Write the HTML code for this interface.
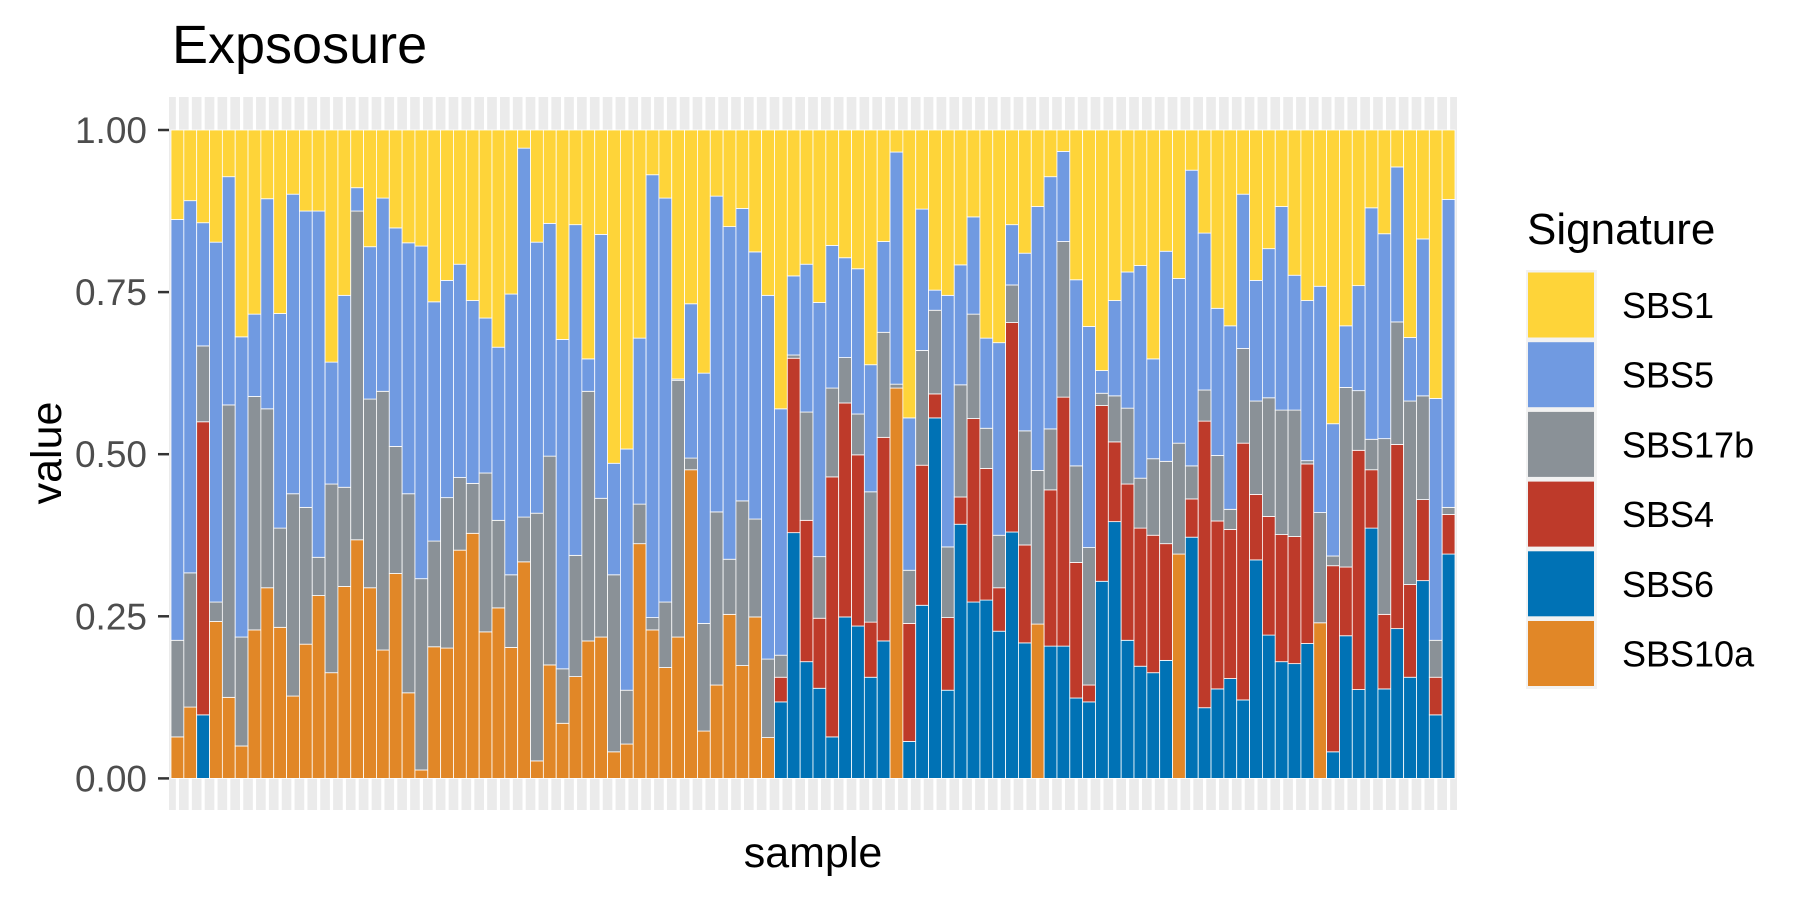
<!DOCTYPE html>
<html><head><meta charset="utf-8"><style>
html,body{margin:0;padding:0;background:#fff;}
svg{display:block;font-family:"Liberation Sans",Arial,sans-serif;}
</style></head><body>
<svg id="chart" width="1800" height="900" viewBox="0 0 1800 900" xmlns="http://www.w3.org/2000/svg">
<rect x="0" y="0" width="1800" height="900" fill="#fff"/>
<text x="172" y="63" font-size="54" fill="#000">Expsosure</text>
<rect x="169" y="97" width="1288" height="713" fill="#EBEBEB"/>
<g id="grid"></g>
<g id="bars"></g>
<g id="yaxis"></g>
<text transform="translate(61,453) rotate(-90)" text-anchor="middle" font-size="43" fill="#000">value</text>
<text x="813" y="867" text-anchor="middle" font-size="43" fill="#000">sample</text>
<g>
<text x="1527" y="244" font-size="44" fill="#000">Signature</text>
<rect x="1526" y="270" width="71" height="419" fill="#F2F2F2"/>
<g id="legend-keys"></g>
</g>
</svg>
<script>
const samples = Array.from({length:100},(_,i)=>"S"+(i+1));
const seriesNames = ["SBS10a","SBS6","SBS4","SBS17b","SBS5","SBS1"];
const SBS10a = [.064,.110,0,.242,.125,.050,.229,.294,.233,.127,.207,.282,.163,.296,.368,.294,.198,.316,.132,.013,.203,.201,.352,.378,.226,.263,.202,.334,.027,.175,.085,.157,.212,.218,.041,.053,.362,.229,.171,.218,.476,.073,.144,.253,.174,.249,.063,
0,0,0,0,0,0,0,0,0,.602,0,0,0,0,0,0,0,0,0,0,.238,0,0,0,0,0,0,0,0,0,0,.346,0,0,0,0,0,0,0,0,0,0,.240,0,0,0,0,0,0,0,0,0,0];
const SBS6 = [0,0,.098,0,0,0,0,0,0,0,0,0,0,0,0,0,0,0,0,0,0,0,0,0,0,0,0,0,0,0,0,0,0,0,0,0,0,0,0,0,0,0,0,0,0,0,0,
.118,.379,.180,.139,.064,.249,.235,.156,.212,0,.057,.267,.556,.136,.392,.272,.275,.227,.380,.209,0,.204,.204,.124,.118,.304,.396,.213,.173,.163,.182,0,.372,.109,.138,.154,.121,.337,.221,.180,.177,.208,0,.041,.220,.137,.386,.138,.231,.156,.305,.098,.346];
const SBS4 = [0,0,.452,0,0,0,0,0,0,0,0,0,0,0,0,0,0,0,0,0,0,0,0,0,0,0,0,0,0,0,0,0,0,0,0,0,0,0,0,0,0,0,0,0,0,0,0,
.038,.269,.218,.108,.401,.330,.264,.085,.314,0,.182,.216,.037,.112,.042,.283,.203,.067,.323,.151,0,.241,.384,.209,.026,.271,.123,.241,.213,.212,.180,0,.059,.442,.259,.230,.396,.101,.183,.196,.196,.277,0,.287,.106,.369,.090,.115,.284,.143,.125,.058,.061];
const SBS17b = [.149,.207,.117,.030,.451,.168,.360,.276,.153,.312,.211,.059,.291,.153,.507,.291,.399,.196,.307,.295,.163,.232,.112,.077,.245,.135,.112,.069,.382,.322,.084,.187,.385,.214,.273,.083,.061,.019,.101,.396,.018,.166,.267,.085,.254,.151,.121,
.034,.005,.167,.095,.137,.070,.063,.201,.162,.006,.082,.177,.129,.109,.173,.161,.062,.081,.058,.176,.237,.094,.240,.149,.212,.019,.071,.117,.077,.118,.127,.171,.051,.048,.101,.031,.146,.144,.183,.192,.195,.005,.170,.015,.277,.092,.047,.271,.189,.283,.160,.057,.011];
const SBS5 = [.649,.574,.190,.555,.352,.463,.127,.324,.331,.462,.457,.534,.188,.296,.036,.235,.298,.337,.387,.513,.369,.335,.329,.282,.239,.267,.433,.569,.418,.359,.508,.510,.050,.407,.172,.372,.256,.683,.623,.002,.238,.386,.487,.513,.451,.412,.561,
.380,.122,.228,.392,.220,.154,.224,.196,.140,.358,.235,.218,.031,.388,.185,.150,.139,.297,.093,.274,.407,.389,.139,.287,.341,.035,.147,.210,.328,.154,.324,.254,.456,.242,.227,.283,.238,.186,.230,.314,.208,.247,.349,.204,.095,.162,.357,.316,.239,.098,.242,.373,.475];
const SBS1 = [.138,.109,.143,.173,.072,.319,.284,.106,.283,.099,.125,.125,.358,.255,.089,.180,.105,.151,.174,.179,.265,.232,.207,.263,.290,.335,.253,.028,.173,.144,.323,.146,.353,.161,.514,.492,.321,.069,.105,.384,.268,.375,.102,.149,.121,.188,.255,
.430,.225,.207,.266,.178,.197,.214,.362,.172,.034,.444,.122,.247,.255,.208,.134,.321,.328,.146,.190,.118,.072,.033,.231,.303,.371,.263,.219,.209,.353,.187,.229,.062,.159,.275,.302,.099,.232,.183,.118,.224,.263,.241,.453,.302,.240,.120,.160,.057,.320,.168,.414,.107];
const yTicks = [0,0.25,0.5,0.75,1];
const yTickLabels = ["0.00","0.25","0.50","0.75","1.00"];
const legendOrder = ["SBS1","SBS5","SBS17b","SBS4","SBS6","SBS10a"];

const colors = {SBS1:"#FED439",SBS5:"#709AE1",SBS17b:"#8A9197",SBS4:"#BE3A2A",SBS6:"#0072B5",SBS10a:"#E18727"};
const seriesData = {SBS10a,SBS6,SBS4,SBS17b,SBS5,SBS1};
const NS="http://www.w3.org/2000/svg";
const x0=171, x1=1455, y0=778.4, y1=130;
const step=(x1-x0)/samples.length;
function xScale(i){return x0+i*step;}
function yScale(v){return y0-v*(y0-y1);}

const grid=document.getElementById('grid');
samples.forEach((s,i)=>{
  const l=document.createElementNS(NS,'line');
  const cx=xScale(i)+step/2;
  l.setAttribute('x1',cx);l.setAttribute('x2',cx);l.setAttribute('y1',97);l.setAttribute('y2',810);
  l.setAttribute('stroke','#fff');l.setAttribute('stroke-width',3.2);
  
  
  grid.appendChild(l);
});

const bars=document.getElementById('bars');
samples.forEach((s,i)=>{
  let cum=0;
  seriesNames.forEach(name=>{
    const v=seriesData[name][i];
    if(v<=0){return;}
    const r=document.createElementNS(NS,'rect');
    r.setAttribute('x',xScale(i));
    r.setAttribute('width',step);
    r.setAttribute('y',yScale(cum+v));
    r.setAttribute('height',yScale(cum)-yScale(cum+v));
    r.setAttribute('fill',colors[name]);
    r.setAttribute('stroke','#fff');
    r.setAttribute('stroke-width',0.8);
    
    
    bars.appendChild(r);
    cum+=v;
  });
});

const yaxis=document.getElementById('yaxis');
yTicks.forEach((t,i)=>{
  const y=yScale(t);
  const l=document.createElementNS(NS,'line');
  l.setAttribute('x1',158);l.setAttribute('x2',169);l.setAttribute('y1',y);l.setAttribute('y2',y);
  l.setAttribute('stroke','#333');l.setAttribute('stroke-width',2.5);
  
  
  yaxis.appendChild(l);
  const tx=document.createElementNS(NS,'text');
  tx.setAttribute('x',147);tx.setAttribute('y',y+13);
  tx.setAttribute('text-anchor','end');tx.setAttribute('font-size',37);tx.setAttribute('fill','#4D4D4D');
  tx.textContent=yTickLabels[i];
  
  
  yaxis.appendChild(tx);
});

const lk=document.getElementById('legend-keys');
legendOrder.forEach((name,i)=>{
  const top=271+i*69.7;
  const r=document.createElementNS(NS,'rect');
  r.setAttribute('x',1528);r.setAttribute('y',top+1.5);r.setAttribute('width',66);r.setAttribute('height',65);
  r.setAttribute('fill',colors[name]);
  
  
  lk.appendChild(r);
  const t=document.createElementNS(NS,'text');
  t.setAttribute('x',1622);t.setAttribute('y',top+47);t.setAttribute('font-size',36);t.setAttribute('fill','#000');
  t.textContent=name;
  
  
  lk.appendChild(t);
});
</script>
</body></html>
